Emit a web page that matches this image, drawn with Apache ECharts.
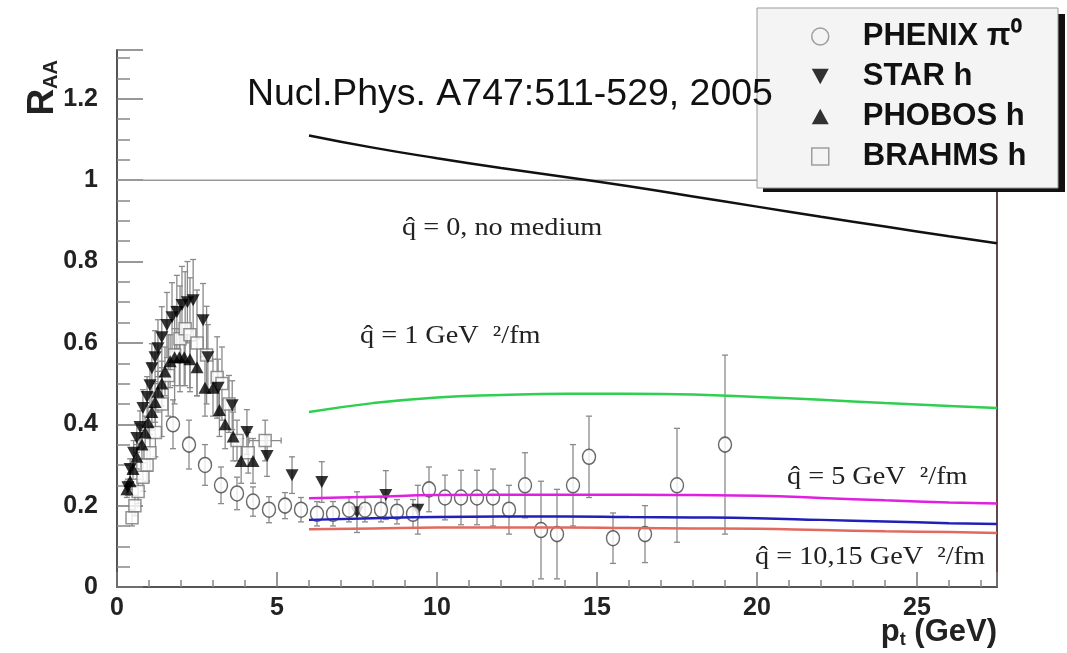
<!DOCTYPE html>
<html>
<head>
<meta charset="utf-8">
<script src="https://cdn.jsdelivr.net/npm/echarts@6/dist/echarts.min.js"></script>
<style>
  html, body { margin: 0; padding: 0; background: #fff; }
  #chart { width: 1067px; height: 653px; }
</style>
</head>
<body>
<div id="chart"></div>
<script>
// PHENIX pi0 (open circles)
const phenixPt = [1.75, 2.25, 2.75, 3.25, 3.75, 4.25, 4.75, 5.25, 5.75, 6.25, 6.75, 7.25, 7.75, 8.25, 8.75, 9.25, 9.75, 10.25, 10.75, 11.25, 11.75, 12.25, 12.75, 13.25, 13.75, 14.25, 14.75, 15.5, 16.5, 17.5, 19.0]
const phenixRaa = [0.40, 0.35, 0.30, 0.25, 0.23, 0.21, 0.19, 0.20, 0.19, 0.18, 0.18, 0.19, 0.19, 0.19, 0.185, 0.18, 0.24, 0.22, 0.22, 0.22, 0.22, 0.19, 0.25, 0.14, 0.13, 0.25, 0.32, 0.12, 0.13, 0.25, 0.35]
const phenixErr = [0.06, 0.06, 0.05, 0.045, 0.04, 0.036, 0.032, 0.032, 0.03, 0.03, 0.03, 0.03, 0.03, 0.03, 0.03, 0.035, 0.055, 0.055, 0.067, 0.067, 0.07, 0.06, 0.08, 0.12, 0.11, 0.1, 0.1, 0.062, 0.07, 0.14, 0.22]

// STAR h (down triangles)
const starPt = [0.34, 0.41, 0.52, 0.62, 0.72, 0.81, 0.94, 1.03, 1.09, 1.19, 1.28, 1.4, 1.56, 1.72, 1.87, 2.03, 2.2, 2.38, 2.69, 2.84, 3.16, 3.6, 4.06, 4.69, 5.47, 6.4, 7.5, 8.4, 9.4]
const starRaa = [0.245, 0.29, 0.33, 0.366, 0.393, 0.44, 0.467, 0.496, 0.538, 0.565, 0.587, 0.614, 0.644, 0.663, 0.676, 0.693, 0.70, 0.705, 0.656, 0.565, 0.49, 0.447, 0.381, 0.322, 0.275, 0.258, 0.184, 0.226, 0.19]
const starErr = [0.02, 0.025, 0.03, 0.035, 0.04, 0.045, 0.05, 0.055, 0.06, 0.065, 0.07, 0.075, 0.08, 0.085, 0.09, 0.095, 0.1, 0.1, 0.09, 0.08, 0.07, 0.06, 0.055, 0.05, 0.045, 0.05, 0.05, 0.06, 0.06]

// PHOBOS h (up triangles)
const phobosPt = [0.31, 0.41, 0.5, 0.62, 0.78, 0.88, 0.97, 1.09, 1.19, 1.28, 1.4, 1.5, 1.66, 1.8, 1.95, 2.1, 2.28, 2.5, 2.75, 3.0, 3.2, 3.38, 3.63, 3.88, 4.25]
const phobosRaa = [0.24, 0.26, 0.29, 0.32, 0.35, 0.38, 0.405, 0.43, 0.455, 0.48, 0.50, 0.53, 0.555, 0.565, 0.565, 0.565, 0.56, 0.54, 0.49, 0.49, 0.435, 0.40, 0.37, 0.31, 0.31]
const phobosErr = [0.02, 0.02, 0.025, 0.03, 0.035, 0.04, 0.04, 0.045, 0.05, 0.05, 0.055, 0.06, 0.065, 0.07, 0.07, 0.07, 0.07, 0.07, 0.07, 0.07, 0.065, 0.06, 0.06, 0.055, 0.055]

// BRAHMS h (open squares)
const brahmsPt = [0.47, 0.56, 0.66, 0.81, 0.94, 1.03, 1.2, 1.4, 1.6, 1.8, 1.97, 2.13, 2.28, 2.5, 2.8, 3.13, 3.28, 3.5, 3.75, 4.1, 4.63]
const brahmsRaa = [0.17, 0.2, 0.235, 0.27, 0.30, 0.33, 0.38, 0.45, 0.52, 0.57, 0.61, 0.635, 0.62, 0.6, 0.57, 0.515, 0.50, 0.45, 0.36, 0.33, 0.36]
const brahmsErr = [0.02, 0.025, 0.03, 0.035, 0.04, 0.045, 0.06, 0.08, 0.1, 0.12, 0.13, 0.14, 0.14, 0.13, 0.12, 0.1, 0.09, 0.07, 0.05, 0.05, 0.05]
const brahmsPtErr = [0, 0, 0, 0, 0, 0, 0, 0, 0, 0, 0, 0, 0, 0, 0, 0, 0, 0, 0, 0, 0.5]

// theory curves
const curvePt = [6, 8, 10, 12, 14, 16, 18, 20, 22, 24, 26, 27.5]
const noMedium = [1.11, 1.08, 1.054, 1.03, 1.008, 0.985, 0.96, 0.935, 0.91, 0.886, 0.862, 0.845]
const qhat1 = [0.43, 0.452, 0.466, 0.472, 0.475, 0.475, 0.473, 0.467, 0.46, 0.452, 0.445, 0.44]
const qhat5 = [0.218, 0.222, 0.226, 0.227, 0.227, 0.227, 0.226, 0.224, 0.219, 0.213, 0.208, 0.205]
const qhat10 = [0.165, 0.169, 0.172, 0.173, 0.173, 0.172, 0.171, 0.169, 0.165, 0.161, 0.157, 0.155]
const qhat15 = [0.142, 0.144, 0.146, 0.146, 0.146, 0.145, 0.144, 0.143, 0.14, 0.137, 0.135, 0.133]

const unityPt = [0, 27.5]
const unityRaa = [1, 1]

const xTicks = [0, 5, 10, 15, 20, 25]
const yTicks = [0, 0.2, 0.4, 0.6, 0.8, 1, 1.2]

const downTri = 'path://M0,0 L10,0 L5,9 Z'
const upTri = 'path://M5,0 L10,9 L0,9 Z'

function pairs(xs, ys) {
  return xs.map((x, i) => [x, ys[i]])
}

function errData(xs, ys, ey, ex) {
  return xs.map((x, i) => [x, ys[i], ey[i], ex ? ex[i] : 0])
}

/* vertical (and optional horizontal) error bars with small caps */
function renderErr(params, api) {
  const x = api.value(0), y = api.value(1), ey = api.value(2), ex = api.value(3)
  const lo = api.coord([x, y - ey])
  const hi = api.coord([x, y + ey])
  const st = { stroke: '#8a8a8a', lineWidth: 1.3 }
  const kids = [
    { type: 'line', shape: { x1: lo[0], y1: lo[1], x2: hi[0], y2: hi[1] }, style: st },
    { type: 'line', shape: { x1: lo[0] - 3, y1: lo[1], x2: lo[0] + 3, y2: lo[1] }, style: st },
    { type: 'line', shape: { x1: hi[0] - 3, y1: hi[1], x2: hi[0] + 3, y2: hi[1] }, style: st }
  ]
  if (ex > 0) {
    const l = api.coord([x - ex, y])
    const r = api.coord([x + ex, y])
    kids.push({ type: 'line', shape: { x1: l[0], y1: l[1], x2: r[0], y2: r[1] }, style: st })
    kids.push({ type: 'line', shape: { x1: l[0], y1: l[1] - 3, x2: l[0], y2: l[1] + 3 }, style: st })
    kids.push({ type: 'line', shape: { x1: r[0], y1: r[1] - 3, x2: r[0], y2: r[1] + 3 }, style: st })
  }
  return { type: 'group', children: kids }
}

function errSeries(data) {
  return {
    type: 'custom',
    renderItem: renderErr,
    data: data,
    z: 1,
    silent: true,
    encode: { x: 0, y: 1 }
  }
}

function curve(ys, color) {
  return {
    type: 'line',
    data: pairs(curvePt, ys),
    smooth: true,
    symbol: 'none',
    lineStyle: { color: color, width: 2.5 },
    z: 5,
    silent: true
  }
}

function note(text, left, top) {
  return {
    type: 'text', left: left, top: top, z: 10, scaleX: 1.13,
    style: { text: text, font: '25px ' + serif, fill: '#222' }
  }
}

const font = 'Liberation Sans, Arial, sans-serif'
const serif = 'Liberation Serif, Times New Roman, serif'

const myChart = echarts.init(document.getElementById('chart'), null, { renderer: 'canvas' })

const option = {
  backgroundColor: '#fff',
  animation: false,
  grid: { left: 117, top: 50, width: 880, height: 537 },
  xAxis: {
    type: 'value',
    min: 0,
    max: 27.5,
    interval: 5,
    axisLine: { lineStyle: { color: '#555', width: 2 } },
    axisTick: { inside: true, length: 15, lineStyle: { color: '#777', width: 1.5 } },
    minorTick: { show: true, splitNumber: 5, length: 7, lineStyle: { color: '#888', width: 1.5 } },
    splitLine: { show: false },
    axisLabel: {
      showMaxLabel: false,
      margin: 9,
      fontFamily: font,
      fontWeight: 'bold',
      fontSize: 25,
      color: '#222',
      formatter: (v) => (xTicks.indexOf(v) >= 0 ? String(v) : '')
    }
  },
  yAxis: [{
    type: 'value',
    min: 0,
    max: 1.32,
    interval: 0.2,
    axisLine: { lineStyle: { color: '#555', width: 2 } },
    axisTick: { inside: true, length: 26, lineStyle: { color: '#777', width: 1.5 } },
    minorTick: { show: true, splitNumber: 4, length: 13, lineStyle: { color: '#888', width: 1.5 } },
    splitLine: { show: false },
    axisLabel: {
      showMaxLabel: false,
      margin: 19,
      fontFamily: font,
      fontWeight: 'bold',
      fontSize: 25,
      color: '#222',
      formatter: (v) => {
        const t = yTicks.find((k) => Math.abs(k - v) < 1e-6)
        return t === undefined ? '' : String(t)
      }
    }
  }, {
    type: 'value',
    position: 'right',
    min: 0,
    max: 1.32,
    axisLine: { show: true, lineStyle: { color: '#604848', width: 2 } },
    axisTick: { show: false },
    axisLabel: { show: false },
    splitLine: { show: false }
  }],
  legend: {
    orient: 'vertical',
    left: 811,
    top: 21,
    padding: 0,
    itemGap: 9,
    itemWidth: 17,
    itemHeight: 17,
    z: 30,
    textStyle: {
      fontFamily: font,
      fontWeight: 'bold',
      fontSize: 31,
      lineHeight: 31,
      color: '#111',
      padding: [0, 0, 0, 29]
    },
    data: [
      { name: 'PHENIX π⁰', icon: 'circle', itemStyle: { color: '#f4f4f4', borderColor: '#888', borderWidth: 1.5 } },
      { name: 'STAR h', icon: downTri, itemStyle: { color: '#000', borderWidth: 0 } },
      { name: 'PHOBOS h', icon: upTri, itemStyle: { color: '#000', borderWidth: 0 } },
      { name: 'BRAHMS h', icon: 'rect', itemStyle: { color: '#f4f4f4', borderColor: '#888', borderWidth: 1.5 } }
    ]
  },
  graphic: [
    // legend box and its hard shadow
    { type: 'rect', z: 20, shape: { x: 763, y: 14, width: 302, height: 178 }, style: { fill: '#111' } },
    { type: 'rect', z: 21, shape: { x: 757, y: 8, width: 301, height: 180 }, style: { fill: '#f4f4f4', stroke: '#9a9a9a', lineWidth: 1 } },
    {
      type: 'text', left: 247, top: 77, z: 40, scaleX: 1.04,
      style: { text: 'Nucl.Phys. A747:511-529, 2005', font: '36px ' + font, fill: '#111' }
    },
    note('q\u0302 = 0, no medium', 402, 216),
    note('q\u0302 = 1 GeV  \u00b2/fm', 360, 324),
    note('q\u0302 = 5 GeV  \u00b2/fm', 787, 465),
    note('q\u0302 = 10,15 GeV  \u00b2/fm', 755, 545),
    {
      type: 'text', left: 24, top: 60, rotation: Math.PI / 2, z: 10,
      style: {
        text: '{r|R}{s|AA}',
        rich: {
          r: { font: 'bold 37px ' + font, fill: '#222' },
          s: { font: 'bold 20px ' + font, fill: '#222', padding: [18, 0, 0, 0] }
        }
      }
    },
    {
      type: 'text', right: 70, top: 617, z: 10,
      style: {
        text: '{p|p}{s|t}{p| (GeV)}',
        rich: {
          p: { font: 'bold 31px ' + font, fill: '#222' },
          s: { font: 'bold 18px ' + font, fill: '#222', padding: [16, 0, 0, 0] }
        }
      }
    }
  ],
  series: [
    {
      type: 'line',
      data: pairs(unityPt, unityRaa),
      symbol: 'none',
      lineStyle: { color: '#999', width: 1.5 },
      z: 0,
      silent: true
    },
    errSeries(errData(phenixPt, phenixRaa, phenixErr)),
    errSeries(errData(starPt, starRaa, starErr)),
    errSeries(errData(phobosPt, phobosRaa, phobosErr)),
    errSeries(errData(brahmsPt, brahmsRaa, brahmsErr, brahmsPtErr)),
    {
      name: 'BRAHMS h',
      type: 'scatter',
      data: pairs(brahmsPt, brahmsRaa),
      symbol: 'rect',
      symbolSize: 12,
      itemStyle: { color: '#fff', borderColor: '#777', borderWidth: 1.5 },
      z: 2
    },
    {
      name: 'PHOBOS h',
      type: 'scatter',
      data: pairs(phobosPt, phobosRaa),
      symbol: upTri,
      symbolSize: [13, 12],
      itemStyle: { color: '#000' },
      z: 3
    },
    {
      name: 'STAR h',
      type: 'scatter',
      data: pairs(starPt, starRaa),
      symbol: downTri,
      symbolSize: [13, 12],
      itemStyle: { color: '#000' },
      z: 3
    },
    {
      name: 'PHENIX π⁰',
      type: 'scatter',
      data: pairs(phenixPt, phenixRaa),
      symbol: 'circle',
      symbolSize: [13, 15],
      itemStyle: { color: '#fff', borderColor: '#444', borderWidth: 1.5 },
      z: 3
    },
    curve(noMedium, '#111'),
    curve(qhat1, '#2fcf4f'),
    curve(qhat5, '#e020e0'),
    curve(qhat10, '#2020b8'),
    curve(qhat15, '#e06a60')
  ]
}

myChart.setOption(option)
window.addEventListener('resize', () => myChart.resize())
</script>
</body>
</html>
